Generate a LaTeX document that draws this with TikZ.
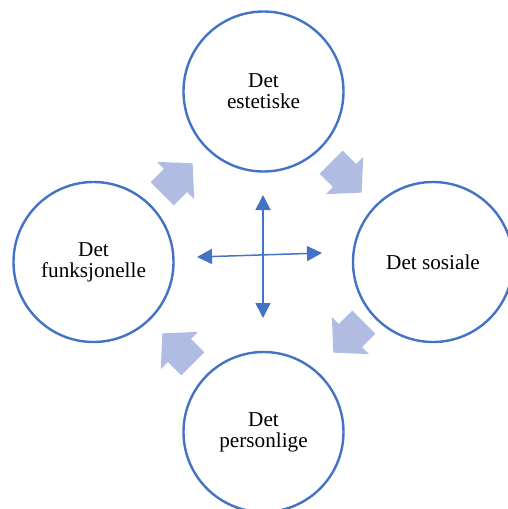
\documentclass[tikz,border=0pt]{standalone}
\usepackage{fontspec}
\setmainfont{Liberation Serif}
\usetikzlibrary{arrows.meta,shapes.arrows}

\definecolor{ringblue}{RGB}{68,114,196}
\definecolor{flowblue}{RGB}{176,188,226}

\begin{document}
\begin{tikzpicture}[
			x=0.5pt,
			y=-0.5pt,
			>={Triangle[length=7.5pt,width=7.5pt]},
			ring/.style={
				draw=ringblue,
				line width=1.2pt,
				fill=white,
				circle,
				minimum size=80pt,
				align=center,
				font=\fontsize{10.6}{10.4}\selectfont
			},
			flow/.style={
				single arrow,
				fill=flowblue,
				inner xsep=0pt,
				inner ysep=8pt,
				minimum height=21.5pt,
				single arrow head extend=5pt,
				single arrow tip angle=95,
				anchor=tip
			}
			]
			
			\useasboundingbox (0,0) rectangle (508,509);
			
			%%%%%%%%%%%%%%%%%%%%%%%%%%%%%%%%%%%%%%%%%%%%%%%%%%%%%%
			% Circles
			%%%%%%%%%%%%%%%%%%%%%%%%%%%%%%%%%%%%%%%%%%%%%%%%%%%%%%
			
			\node[ring] (estetiske) at (263.5,91.5) {Det\\estetiske};
			
			\node[ring] (sosiale) at (433,262) {Det sosiale};
			
			\node[ring] (personlige) at (263.5,432) {Det\\personlige};
			
			\node[ring] (funksjonelle) at (93.5,262) {Det\\funksjonelle};
			
			%%%%%%%%%%%%%%%%%%%%%%%%%%%%%%%%%%%%%%%%%%%%%%%%%%%%%%
			% Block arrows (clockwise)
			%%%%%%%%%%%%%%%%%%%%%%%%%%%%%%%%%%%%%%%%%%%%%%%%%%%%%%
			
			\node[flow, rotate=45] (toestetiske) at (193,163) {};
			
			\node[flow, rotate=-45] (tososiale) at (362,193) {};
			
			\node[flow, rotate=-135] (topersonlige) at (333,353) {};
			
			\node[flow, rotate=135] (tofunksjonelle) at (162,333) {};
			
			%%%%%%%%%%%%%%%%%%%%%%%%%%%%%%%%%%%%%%%%%%%%%%%%%%%%%%
			% Centre cross
			%%%%%%%%%%%%%%%%%%%%%%%%%%%%%%%%%%%%%%%%%%%%%%%%%%%%%%
			
			\coordinate (crosstop) at (263,195);
			\coordinate (crossbottom) at (263,318);
			\coordinate (crossleft) at (197,257);
			\coordinate (crossright) at (322,253);
			
			\draw[<->,ringblue,line width=0.75pt]
			(crosstop) -- (crossbottom);
			
			\draw[<->,ringblue,line width=0.75pt]
			(crossleft) -- (crossright);
			
			%%%%%%%%%%%%%%%%%%%%%%%%%%%%%%%%%%%%%%%%%%%%%%%%%%%%%%
			
		\end{tikzpicture}
\end{document}
